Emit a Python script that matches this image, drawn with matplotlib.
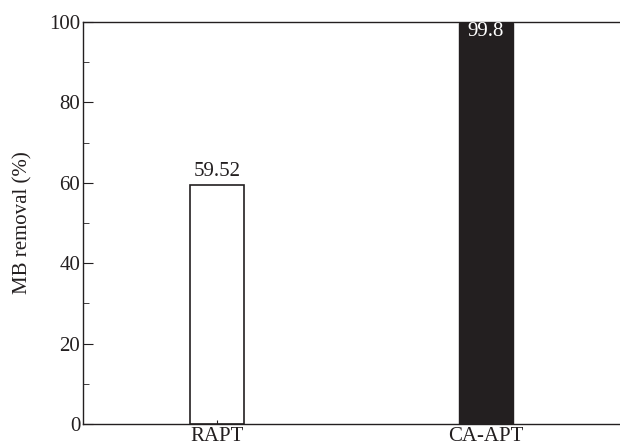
import matplotlib.pyplot as plt
import numpy as np

# data
samples = ["RAPT", "CA-APT"]
removal = [59.52, 99.8]
labels = ["59.52", "99.8"]

plt.rcParams['font.family'] = ['Liberation Serif', 'DejaVu Serif']
plt.rcParams['font.size'] = 15

fig = plt.figure(figsize=(6.2, 4.48), dpi=100)
ax = fig.add_axes([0.134, 0.0536, 0.866, 0.8974])

x = np.arange(len(samples))
ax.bar(x[0], removal[0], width=0.2, color="white", edgecolor="#231f20", linewidth=1.2)
ax.bar(x[1], removal[1], width=0.2, color="#231f20", edgecolor="#231f20", linewidth=1.0)

ax.text(x[0], removal[0] + 0.8, labels[0], ha="center", va="bottom", color="#231f20")
ax.text(x[1], removal[1] + 0.3, labels[1], ha="center", va="top", color="white")

ax.set_xlim(-0.5, 1.5)
ax.set_ylim(0, 100)
ax.set_xticks(x)
ax.set_xticklabels(samples)
ax.set_yticks(np.arange(0, 101, 20))
ax.set_yticks(np.arange(10, 100, 20), minor=True)
ax.tick_params(axis="both", which="both", direction="in", colors="#231f20", labelcolor="#231f20")
ax.tick_params(axis="y", which="major", length=7, pad=2)
ax.tick_params(axis="y", which="minor", length=4)
ax.tick_params(axis="x", which="major", length=3, pad=2)
ax.spines["right"].set_visible(False)
for s in ["left", "top", "bottom"]:
    ax.spines[s].set_linewidth(1.0)
    ax.spines[s].set_color("#231f20")
ax.set_ylabel("MB removal (%)", color="#231f20", labelpad=12)

fig.savefig("out.png", dpi=100)
